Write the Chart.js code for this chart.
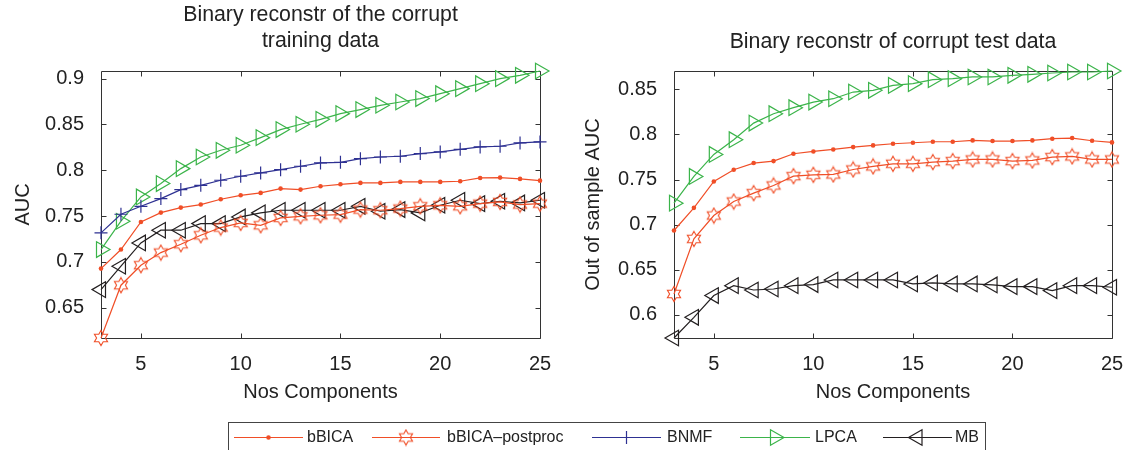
<!DOCTYPE html>
<html>
<head>
<meta charset="utf-8">
<script src="https://cdn.jsdelivr.net/npm/chart.js@4.4.1/dist/chart.umd.min.js"></script>
<style>
  body {
    margin: 0;
    width: 1132px;
    height: 450px;
    overflow: hidden;
    position: relative;
    background: #fff;
    font-family: "Liberation Sans", Arial, sans-serif;
  }
  canvas.plot { position: absolute; top: 0; }
  #train-chart { left: 0; }
  #test-chart { left: 570px; }
  #legend-box {
    position: absolute;
    left: 228px;
    top: 422px;
    width: 758px;
    height: 32px;
    box-sizing: border-box;
    border: 1px solid #444;
  }
  #legend-samples { position: absolute; left: 0; top: 0; }
  .legend-label {
    position: absolute;
    top: 428px;
    font-size: 16px;
    line-height: 18px;
    color: #222;
    white-space: nowrap;
  }
</style>
</head>
<body>
<canvas id="train-chart" class="plot" width="560" height="410"></canvas>
<canvas id="test-chart" class="plot" width="562" height="410"></canvas>
<div id="legend-box"></div>
<canvas id="legend-samples" width="1132" height="450"></canvas>
<div id="legend-labels"></div>
<script>
// number of components on the x axis
const components = [3, 4, 5, 6, 7, 8, 9, 10, 11, 12, 13, 14, 15, 16, 17, 18, 19, 20, 21, 22, 23, 24, 25];

// AUC on the corrupt training data
const bbica_train = [0.6927, 0.7135, 0.7436, 0.7538, 0.7593, 0.7626, 0.7684, 0.7727, 0.7753, 0.78, 0.7789, 0.7826, 0.7847, 0.7862, 0.7862, 0.7873, 0.7873, 0.7873, 0.788, 0.7916, 0.792, 0.7906, 0.7887];
const postproc_train = [0.617, 0.6746, 0.6964, 0.7102, 0.7193, 0.7291, 0.7375, 0.7426, 0.74, 0.748, 0.7498, 0.7509, 0.7516, 0.7571, 0.7564, 0.7582, 0.7607, 0.7618, 0.7607, 0.7636, 0.7655, 0.7626, 0.7636];
const bnmf_train = [0.7317, 0.752, 0.7607, 0.7691, 0.7789, 0.7836, 0.7891, 0.7935, 0.7971, 0.8007, 0.8044, 0.808, 0.8087, 0.8127, 0.8145, 0.8153, 0.8182, 0.82, 0.8229, 0.8255, 0.8262, 0.8298, 0.8309];
const lpca_train = [0.7135, 0.7444, 0.7709, 0.7855, 0.8018, 0.8145, 0.8218, 0.8273, 0.8356, 0.8444, 0.8502, 0.8556, 0.8618, 0.8662, 0.8709, 0.8745, 0.8782, 0.8836, 0.8891, 0.8945, 0.9, 0.9036, 0.9083];
const mb_train = [0.6698, 0.6953, 0.7207, 0.7346, 0.7346, 0.7418, 0.7418, 0.7491, 0.7535, 0.7564, 0.7564, 0.7564, 0.7564, 0.7607, 0.7553, 0.7571, 0.7535, 0.7618, 0.7673, 0.7636, 0.7662, 0.7644, 0.7673];

// out of sample AUC on the corrupt test data
const bbica_test = [0.6936, 0.7187, 0.7479, 0.7609, 0.7683, 0.7705, 0.7786, 0.7812, 0.7834, 0.786, 0.7879, 0.7897, 0.7908, 0.7919, 0.7919, 0.7934, 0.7927, 0.7927, 0.7934, 0.7953, 0.796, 0.793, 0.7912];
const postproc_test = [0.6233, 0.6843, 0.7102, 0.7257, 0.735, 0.7435, 0.7538, 0.7553, 0.7557, 0.7612, 0.7646, 0.7675, 0.7675, 0.7694, 0.7705, 0.7723, 0.7723, 0.7705, 0.7712, 0.7749, 0.7757, 0.7723, 0.7723];
const lpca_test = [0.7239, 0.7535, 0.7779, 0.7942, 0.8126, 0.823, 0.8297, 0.8359, 0.8396, 0.847, 0.8489, 0.8544, 0.8563, 0.8607, 0.8618, 0.8637, 0.8637, 0.8655, 0.8666, 0.8681, 0.8692, 0.8692, 0.8703];
const mb_test = [0.5745, 0.5974, 0.6215, 0.6325, 0.6277, 0.6288, 0.6325, 0.6337, 0.6388, 0.6388, 0.6388, 0.6388, 0.6344, 0.6355, 0.6344, 0.6344, 0.6333, 0.6314, 0.6314, 0.627, 0.6325, 0.6325, 0.6307];

// axis limits (tight around the data)
const x_range = [3, 25];
const train_range = [0.617, 0.9083];
const test_range = [0.5745, 0.8703];

const legend_labels = ["bBICA", "bBICA\u2013postproc", "BNMF", "LPCA", "MB"];

const ORANGE = "#f04e27";
const BLUE = "#2e3192";
const GREEN = "#3bb44a";
const BLACK = "#231f20";
const TEXT = "#222";
const FONT = '"Liberation Sans", Arial, sans-serif';

Chart.defaults.font.family = FONT;
Chart.defaults.color = TEXT;

// six-pointed star outline, used as a point image
const make_hexagram = (color) => {
  const c = document.createElement("canvas");
  c.width = 18;
  c.height = 18;
  const ctx = c.getContext("2d");
  const R = 7.6;
  const r = R / Math.sqrt(3);
  ctx.beginPath();
  for (let k = 0; k < 12; k++) {
    const rad = k % 2 === 0 ? R : r;
    const ang = -Math.PI / 2 + (k * Math.PI) / 6;
    const px = 9 + rad * Math.cos(ang);
    const py = 9 + rad * Math.sin(ang);
    if (k === 0) ctx.moveTo(px, py);
    else ctx.lineTo(px, py);
  }
  ctx.closePath();
  ctx.strokeStyle = color;
  ctx.lineWidth = 1.1;
  ctx.stroke();
  return c;
};

const hexagram = make_hexagram(ORANGE);

const styles = {
  bbica: { color: ORANGE, point: "circle", radius: 2.3, fill: ORANGE, width: 0, rotation: 0 },
  postproc: { color: ORANGE, point: hexagram, radius: 7, fill: "rgba(0,0,0,0)", width: 1, rotation: 0 },
  bnmf: { color: BLUE, point: "cross", radius: 6.5, fill: "rgba(0,0,0,0)", width: 1.2, rotation: 0 },
  lpca: { color: GREEN, point: "triangle", radius: 9, fill: "rgba(0,0,0,0)", width: 1.2, rotation: 90 },
  mb: { color: BLACK, point: "triangle", radius: 9, fill: "rgba(0,0,0,0)", width: 1.2, rotation: -90 },
};

const make_dataset = (label, values, style) => ({
  label: label,
  data: components.map((c, i) => ({ x: c, y: values[i] })),
  borderColor: style.color,
  borderWidth: 1.2,
  pointStyle: style.point,
  pointRadius: style.radius,
  pointRotation: style.rotation,
  pointBorderColor: style.color,
  pointBackgroundColor: style.fill,
  pointBorderWidth: style.width,
  pointHoverRadius: style.radius,
  clip: false,
  tension: 0,
});

// box round the plot area with short inward ticks on all four sides
const frame_ticks = {
  id: "frame_ticks",
  beforeDatasetsDraw(chart) {
    const { ctx, chartArea: a, scales } = chart;
    const x = scales.x;
    const y = scales.y;
    const L = Math.round(a.left) + 0.5;
    const R = Math.round(a.right) + 0.5;
    const T = Math.round(a.top) + 0.5;
    const B = Math.round(a.bottom) + 0.5;
    ctx.save();
    ctx.strokeStyle = "#333";
    ctx.lineWidth = 1;
    ctx.beginPath();
    ctx.rect(L, T, R - L, B - T);
    x.ticks.forEach((t) => {
      const px = Math.round(x.getPixelForValue(t.value)) + 0.5;
      ctx.moveTo(px, B);
      ctx.lineTo(px, B - 5);
      ctx.moveTo(px, T);
      ctx.lineTo(px, T + 5);
    });
    y.ticks.forEach((t) => {
      const py = Math.round(y.getPixelForValue(t.value)) + 0.5;
      ctx.moveTo(L, py);
      ctx.lineTo(L + 5, py);
      ctx.moveTo(R, py);
      ctx.lineTo(R - 5, py);
    });
    ctx.stroke();
    ctx.restore();
  },
};

const get_chart_config = (datasets, opts) => ({
  type: "line",
  data: { datasets: datasets },
  options: {
    responsive: false,
    animation: false,
    devicePixelRatio: 1,
    layout: { padding: { left: 0, right: 20, top: 0, bottom: 0 } },
    plugins: {
      legend: { display: false },
      tooltip: { enabled: false },
      title: {
        display: true,
        fullSize: false,
        text: opts.title,
        color: TEXT,
        font: { size: 21.3, weight: "normal", lineHeight: 1.235 },
        padding: opts.title_padding,
      },
    },
    scales: {
      x: {
        type: "linear",
        min: x_range[0],
        max: x_range[1],
        // the gap under the axis comes from the (hidden) tick length, so the
        // label padding does not eat into the plot width
        grid: { display: false, drawTicks: true, tickLength: 14.5 },
        border: { display: false },
        ticks: {
          stepSize: 5,
          includeBounds: false,
          padding: 0,
          font: { size: 20 },
          color: TEXT,
          maxRotation: 0,
        },
        title: {
          display: true,
          text: "Nos Components",
          color: TEXT,
          font: { size: 20 },
          padding: { top: 0, bottom: 6 },
        },
        afterFit: (s) => {
          s.height = 72;
        },
      },
      y: {
        type: "linear",
        min: opts.range[0],
        max: opts.range[1],
        grid: { display: false, drawTicks: false },
        border: { display: false },
        ticks: {
          stepSize: 0.05,
          includeBounds: false,
          padding: 17,
          font: { size: 20 },
          color: TEXT,
          callback: (v) => String(+v.toFixed(2)),
        },
        title: {
          display: true,
          text: opts.y_title,
          color: TEXT,
          font: { size: 20 },
          padding: { top: 11, bottom: 0 },
        },
        afterFit: (s) => {
          s.width = opts.axis_width;
        },
      },
    },
  },
  plugins: [frame_ticks],
});

const train_chart = new Chart(
  document.getElementById("train-chart"),
  get_chart_config(
    [
      make_dataset(legend_labels[0], bbica_train, styles.bbica),
      make_dataset(legend_labels[1], postproc_train, styles.postproc),
      make_dataset(legend_labels[2], bnmf_train, styles.bnmf),
      make_dataset(legend_labels[3], lpca_train, styles.lpca),
      make_dataset(legend_labels[4], mb_train, styles.mb),
    ],
    {
      title: ["Binary reconstr of the corrupt", "training data"],
      title_padding: { top: 1.85, bottom: 16.55 },
      range: train_range,
      y_title: "AUC",
      axis_width: 101,
    }
  )
);

const test_chart = new Chart(
  document.getElementById("test-chart"),
  get_chart_config(
    [
      make_dataset(legend_labels[0], bbica_test, styles.bbica),
      make_dataset(legend_labels[1], postproc_test, styles.postproc),
      make_dataset(legend_labels[3], lpca_test, styles.lpca),
      make_dataset(legend_labels[4], mb_test, styles.mb),
    ],
    {
      title: "Binary reconstr of corrupt test data",
      title_padding: { top: 29.35, bottom: 15.35 },
      range: test_range,
      y_title: "Out of sample AUC",
      axis_width: 104,
    }
  )
);

// shared legend under both plots
const legend_items = [
  { style: styles.bbica, x0: 234, x1: 303, text_x: 307 },
  { style: styles.postproc, x0: 372, x1: 440, text_x: 447 },
  { style: styles.bnmf, x0: 592, x1: 661, text_x: 667 },
  { style: styles.lpca, x0: 740, x1: 810, text_x: 815 },
  { style: styles.mb, x0: 883, x1: 952, text_x: 955 },
];

const draw_legend = () => {
  const ctx = document.getElementById("legend-samples").getContext("2d");
  const holder = document.getElementById("legend-labels");
  const line_y = 437.5;
  legend_items.forEach((item, i) => {
    const st = item.style;
    const mid = (item.x0 + item.x1) / 2;
    ctx.save();
    ctx.strokeStyle = st.color;
    ctx.lineWidth = 1.2;
    ctx.beginPath();
    ctx.moveTo(item.x0, line_y);
    ctx.lineTo(item.x1, line_y);
    ctx.stroke();
    ctx.fillStyle = st.fill;
    ctx.lineWidth = st.width;
    Chart.helpers.drawPoint(
      ctx,
      { pointStyle: st.point, rotation: st.rotation, radius: st.radius, borderWidth: st.width },
      mid,
      line_y
    );
    ctx.restore();

    const span = document.createElement("span");
    span.className = "legend-label";
    span.style.left = item.text_x + "px";
    span.textContent = legend_labels[i];
    holder.appendChild(span);
  });
};

draw_legend();
</script>
</body>
</html>
